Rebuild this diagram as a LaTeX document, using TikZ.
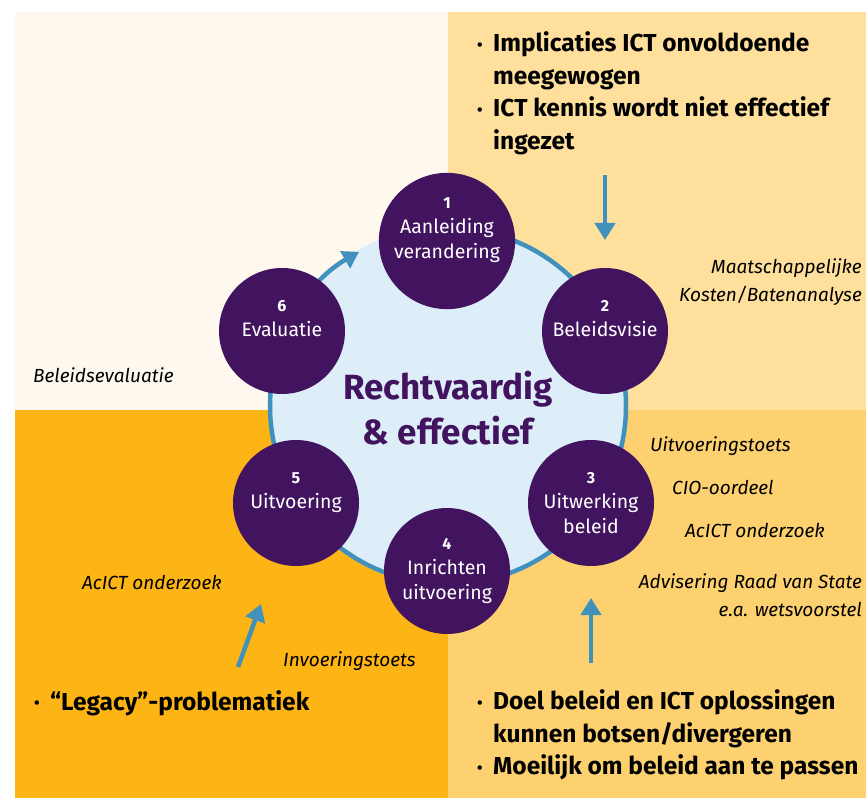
\documentclass[tikz,border=0pt]{standalone}
\usepackage{fontspec}
\setmainfont{Fira Sans}
\usetikzlibrary{arrows.meta}
\definecolor{paars}{HTML}{42145F}
\definecolor{ringblauw}{HTML}{4091BC}
\definecolor{lichtblauw}{HTML}{DDEEF8}
\definecolor{room}{HTML}{FEF8EF}
\definecolor{lichtgeel}{HTML}{FEDF9B}
\definecolor{oranje}{HTML}{FDB515}
\definecolor{geel}{HTML}{FED170}
\newcommand{\nr}[1]{{\bfseries\fontsize{16}{25}\selectfont #1}}
\newcommand{\bul}{\makebox[16pt][l]{\raisebox{1.5pt}{\fontsize{16}{16}\selectfont\textbullet}}}
\newcommand{\nobul}{\makebox[16pt][l]{}}
\begin{document}
\begin{tikzpicture}[x=1pt, y=1pt,
    stage/.style = {circle, fill=paars, text=white, minimum size=126pt,
      inner sep=0pt, align=center, font=\fontsize{19.5}{25}\selectfont},
    note/.style = {inner sep=0pt, align=left, font=\fontsize{19}{28}\selectfont\itshape},
    bullets/.style = {inner sep=0pt, align=left, font=\fontsize{24.5}{32.5}\selectfont\bfseries},
    flow/.style = {draw=ringblauw, line width=4.5pt, -{Triangle[length=17pt, width=20pt]}}]
    \useasboundingbox (0,0) rectangle (866,798);
    % achtergrond
    \fill[room] (15,388) rectangle (448,786);
    \fill[lichtgeel] (448,388) rectangle (866,786);
    \fill[oranje] (15,0) rectangle (448,388);
    \fill[geel] (448,0) rectangle (866,388);
    % cirkel en ring
    \fill[lichtblauw] (448,392) circle (180);
    \draw[flow, -{Triangle[length=16pt, width=19pt]}] (448,392) ++(90:178) arc (90:-240:178);
    \node (midden) at (448,390) [inner sep=0pt, align=center, text=paars,
      font=\fontsize{35}{45}\selectfont\bfseries] {Rechtvaardig\\\& effectief};
    % stappen
    \node[stage] (aanleiding) at (447,557) {\nr{1}\\Aanleiding\\verandering\\\mbox{}};
    \node[stage] (visie) at (605,467) {\nr{2}\\Beleidsvisie\\\mbox{}};
    \node[stage] (uitwerking) at (591,295) {\nr{3}\\Uitwerking\\beleid};
    \node[stage] (inrichten) at (447,227) {\nr{4}\\Inrichten\\uitvoering};
    \node[stage] (uitvoering) at (296,295) {\nr{5}\\Uitvoering\\\mbox{}};
    \node[stage] (evaluatie) at (282,467) {\nr{6}\\Evaluatie\\\mbox{}};
    % knelpunten
    \node[bullets, anchor=west] (ictpunten) at (477,704.5)
      {\bul Implicaties ICT onvoldoende\\\nobul meegewogen\\
       \bul ICT kennis wordt niet effectief\\\nobul ingezet};
    \node[bullets, anchor=west] (beleidpunten) at (477,63)
      {\bul Doel beleid en ICT oplossingen\\\nobul kunnen botsen/divergeren\\
       \bul Moeilijk om beleid aan te passen};
    \node[bullets, anchor=west] (legacy) at (34,95) {\bul ``Legacy''-problematiek};
    % instrumenten
    \node[note, anchor=east, align=right] (mkba) at (862,516) {Maatschappelijke\\Kosten/Batenanalyse};
    \node[note, anchor=west] (beleidsevaluatie) at (33,423) {Beleidsevaluatie};
    \node[note, anchor=west] (uitvoeringstoets) at (650,352) {Uitvoeringstoets};
    \node[note, anchor=west] (cio) at (672,311) {CIO-oordeel};
    \node[note, anchor=west] (acictrechts) at (685,268) {AcICT onderzoek};
    \node[note, anchor=east, align=right] (raadvanstate) at (862,202.5) {Advisering Raad van State\\e.a. wetsvoorstel};
    \node[note, anchor=west] (acictlinks) at (82,216) {AcICT onderzoek};
    \node[note, anchor=west] (invoeringstoets) at (283,137) {Invoeringstoets};
    % pijlen
    \coordinate (pijlboven) at (605,623);
    \coordinate (pijlbovenpunt) at (605,558);
    \coordinate (pijlrechts) at (591,135);
    \coordinate (pijlrechtspunt) at (591,200);
    \coordinate (pijllinks) at (238,131);
    \coordinate (pijllinkspunt) at (261,194);
    \draw[flow] (pijlboven) -- (pijlbovenpunt);
    \draw[flow] (pijlrechts) -- (pijlrechtspunt);
    \draw[flow] (pijllinks) -- (pijllinkspunt);
\end{tikzpicture}
\end{document}
